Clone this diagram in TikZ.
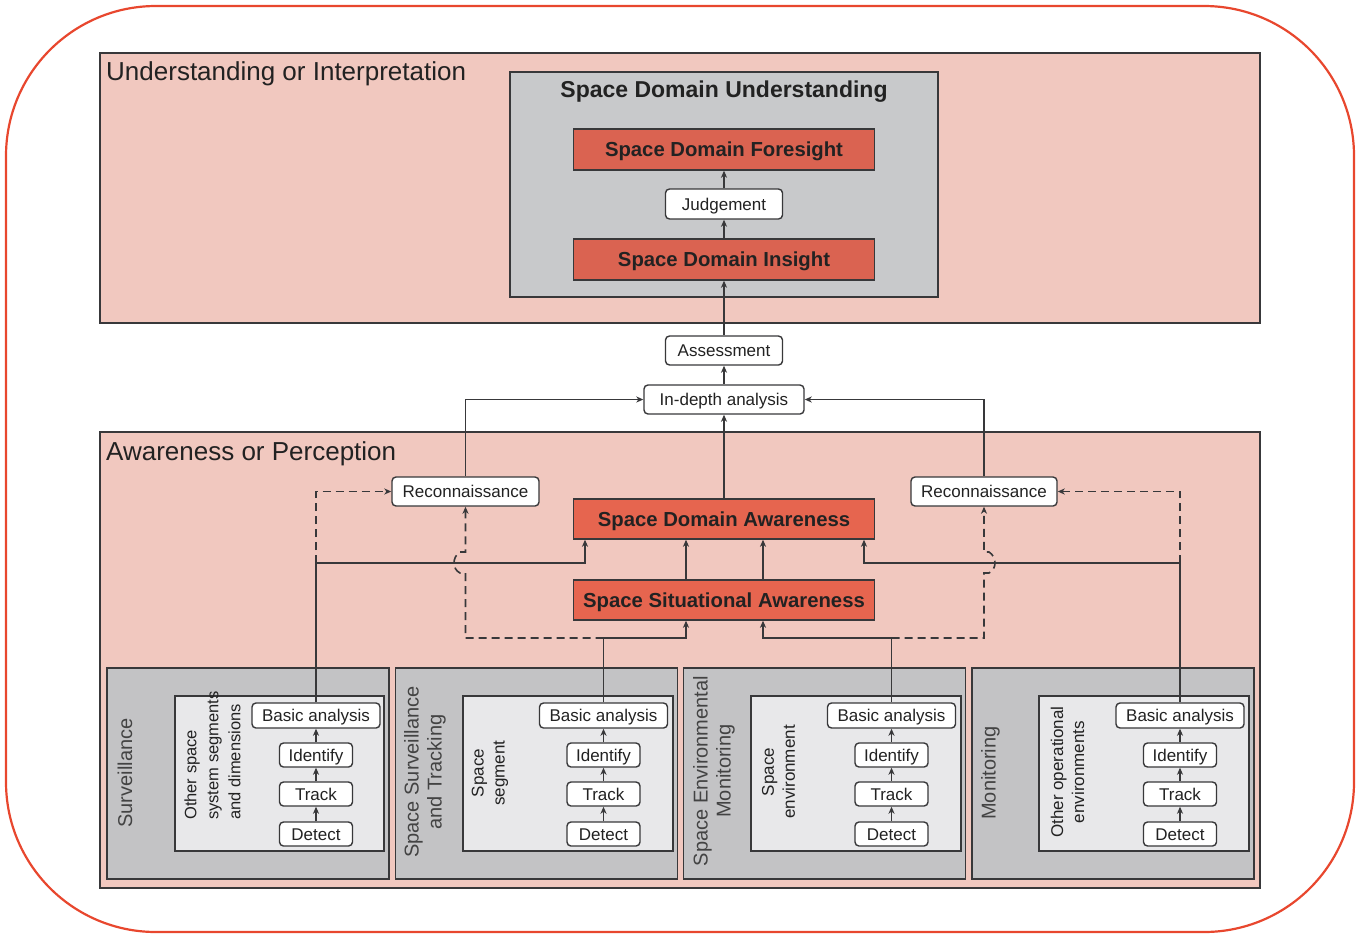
\documentclass[tikz,border=0pt]{standalone}
\usepackage{fontspec}
\setmainfont{Liberation Sans}
\usetikzlibrary{arrows.meta}
\definecolor{pinkbg}{HTML}{F1C8BF}
\definecolor{edge}{HTML}{38383A}
\definecolor{txt}{HTML}{222222}
\definecolor{grayA}{HTML}{C8C9CB}
\definecolor{grayB}{HTML}{C3C3C5}
\definecolor{grayC}{HTML}{E8E8EA}
\definecolor{redA}{HTML}{DA6351}
\definecolor{redB}{HTML}{E6654F}
\definecolor{borderred}{HTML}{E8472E}
\begin{document}
\begin{tikzpicture}[x=1pt,y=-1pt,
  every node/.style={text=txt, inner sep=0pt},
  region/.style={draw=edge, line width=1.6pt, fill=pinkbg},
  sdupanel/.style={draw=edge, line width=1.5pt, fill=grayA},
  colpanel/.style={draw=edge, line width=1.5pt, fill=grayB, minimum width=282pt, minimum height=211pt},
  innerbox/.style={draw=edge, line width=1.4pt, fill=grayC, minimum width=210pt, minimum height=155pt},
  bigred/.style={draw=edge, line width=1.4pt, minimum width=301pt, minimum height=41pt,
     font=\fontsize{20.3}{24}\selectfont\bfseries, text height=14.5pt, text depth=0pt},
  wbox/.style={draw=edge, line width=1.4pt, fill=white, rounded corners=4pt, minimum height=29pt,
     font=\fontsize{17}{20}\selectfont, text height=12.2pt, text depth=0pt},
  sbox/.style={wbox, minimum width=73pt, minimum height=24pt},
  babox/.style={wbox, minimum width=128pt, minimum height=25pt},
  biglabel/.style={font=\fontsize{26}{30}\selectfont},
  vlabel/.style={rotate=90, align=center, font=\fontsize{20}{23}\selectfont, text=txt!85},
  vsmall/.style={rotate=90, align=center, font=\fontsize{17}{21}\selectfont},
  arr/.style={draw=edge, line width=1.6pt, -{Stealth[length=7pt,width=6pt,inset=2pt]}},
  darr/.style={arr, dash pattern=on 8pt off 5pt}
]
\useasboundingbox (0,0) rectangle (1359,937);
% outer frame
\draw[borderred, line width=2.2pt, rounded corners=150pt] (6,6) rectangle (1354,932);

% regions
\node[region, minimum width=1160pt, minimum height=270pt] (topreg) at (680,188) {};
\node[biglabel, anchor=base west] (toplab) at (106,80) {Understanding or Interpretation};
\node[region, minimum width=1160pt, minimum height=456pt] (botreg) at (680,660) {};
\node[biglabel, anchor=base west] (botlab) at (106,460) {Awareness or Perception};

% SDU panel
\node[sdupanel, minimum width=428pt, minimum height=225pt] (sdu) at (724,184.5) {};
\node[font=\fontsize{23}{26}\selectfont\bfseries, anchor=base] (sdulab) at (724,97) {Space Domain Understanding};
\node[bigred, fill=redA] (sdf) at (724,149.5) {Space Domain Foresight};
\node[wbox, minimum width=117pt, minimum height=30pt] (jud) at (724,204) {Judgement};
\node[bigred, fill=redA] (sdi) at (724,259.5) {Space Domain Insight};

% middle
\node[wbox, minimum width=117pt] (ass) at (724,350.5) {Assessment};
\node[wbox, minimum width=160pt] (ida) at (724,399.5) {In-depth analysis};
\node[wbox, minimum width=147pt] (recL) at (465.5,491.5) {Reconnaissance};
\node[wbox, minimum width=146pt] (recR) at (984,491.5) {Reconnaissance};
\node[bigred, fill=redB, minimum height=40pt] (sda) at (724,519) {Space Domain Awareness};
\node[bigred, fill=redB, minimum height=40pt] (ssa) at (724,600) {Space Situational Awareness};

% column panels
\node[colpanel] (p1) at (248,773.5) {};
\node[colpanel] (p2) at (536.5,773.5) {};
\node[colpanel] (p3) at (824.5,773.5) {};
\node[colpanel] (p4) at (1113,773.5) {};
\node[innerbox, minimum width=209pt] (i1) at (279.5,773.5) {};
\node[innerbox] (i2) at (568,773.5) {};
\node[innerbox] (i3) at (856,773.5) {};
\node[innerbox] (i4) at (1144,773.5) {};

% column labels
\node[vlabel] (l1) at (125,773) {Surveillance};
\node[vsmall, align=left, anchor=west, font=\fontsize{16.5}{22}\selectfont] (m1) at (212.5,820) {Other space\\system segments\\and dimensions};
\node[vlabel] (l2) at (425,772) {Space Surveillance\\and Tracking};
\node[vsmall] (m2) at (490,773) {Space\\segment};
\node[vlabel] (l3) at (714,771) {Space Environmental\\Monitoring};
\node[vsmall] (m3) at (778.5,772) {Space\\environment};
\node[vlabel] (l4) at (990.5,773) {Monitoring};
\node[vsmall] (m4) at (1067.5,772) {Other operational\\environments};

% column chains
\foreach \c/\x in {1/316,2/603.5,3/891.5,4/1180}{
  \node[babox] (ba\c) at (\x,715.5) {Basic analysis};
  \node[sbox] (id\c) at (\x,755) {Identify};
  \node[sbox] (tr\c) at (\x,794) {Track};
  \node[sbox] (de\c) at (\x,834) {Detect};
  \draw[arr] (de\c) -- (tr\c);
  \draw[arr] (tr\c) -- (id\c);
  \draw[arr] (id\c) -- (ba\c);
}

% junction coordinates
\coordinate (jL) at (316,563);
\coordinate (jR) at (1180,563);
\coordinate (kL) at (603.5,638);
\coordinate (kR) at (891.5,638);

% top connectors
\draw[arr] (sdi) -- (jud);
\draw[arr] (jud) -- (sdf);
\draw[arr] (ass) -- (sdi);
\draw[arr] (ida) -- (ass);
\draw[arr] (sda) -- (ida);
\draw[arr] (recL.north) |- (ida.west);
\draw[arr] (recR.north) |- (ida.east);
\draw[arr] ([xshift=-38pt]ssa.north) -- ([xshift=-38pt]sda.south);
\draw[arr] ([xshift=39pt]ssa.north) -- ([xshift=39pt]sda.south);

% columns to awareness
\draw[arr] (ba1.north) -- (jL) -| ([xshift=-139pt]sda.south);
\draw[arr] (ba4.north) -- (jR) -| ([xshift=140pt]sda.south);
\draw[arr] (ba2.north) -- (kL) -| ([xshift=-38pt]ssa.south);
\draw[arr] (ba3.north) -- (kR) -| ([xshift=39pt]ssa.south);

% dashed to reconnaissance
\draw[darr] (jL) |- (recL.west);
\draw[darr] (jR) |- (recR.east);
\draw[darr] (kL) -- (465.5,638) -- (465.5,573) -- (460,573) .. controls (452,569) and (452,557) .. (460,552) -- (465.5,552) -- (recL.south);
\draw[darr] (kR) -- (984,638) -- (984,573) -- (989,573) .. controls (997,569) and (997,557) .. (989,552) -- (984,552) -- (recR.south);
\end{tikzpicture}
\end{document}
